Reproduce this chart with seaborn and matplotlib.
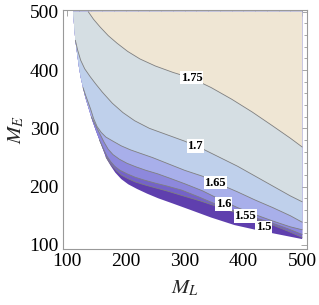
import numpy as np
import matplotlib
matplotlib.use('Agg')
import matplotlib.pyplot as plt
from matplotlib.ticker import MultipleLocator
import seaborn as sns

# Edge of the allowed region (below / left of it nothing is drawn)
edge_ml = np.array([110, 112, 114, 117, 120, 123, 127, 131, 137, 143, 149, 155, 161, 167, 174, 182,
                    192, 204, 219, 236, 255, 280, 310, 345, 385, 425, 465, 500])
edge_me = np.array([500, 475, 451, 428, 406, 388, 370, 353, 333, 313, 296, 280, 264, 248, 236, 224,
                    213, 204, 196, 188, 180, 171, 160, 147, 134, 125, 117, 110])

# Contour lines
c150_ml = np.array([166, 171, 177, 184, 192, 203, 216, 232, 250, 272, 298, 325, 355, 385, 415, 445, 475, 500])
c150_me = np.array([251, 243, 235, 227, 220, 214, 208, 203, 198, 192, 184, 176, 166, 156, 146, 136, 124, 113])
c155_ml = np.array([155, 159, 163, 168, 174, 181, 190, 202, 216, 232, 250, 270, 295, 325, 355, 385, 415, 445, 475, 500])
c155_me = np.array([280, 271, 262, 252, 243, 235, 228, 222, 216, 211, 206, 201, 194, 182, 169, 158, 148, 139, 128, 118])
c160_ml = np.array([141, 146, 151, 157, 163, 170, 178, 189, 202, 217, 234, 254, 276, 300, 330, 360, 390, 420, 450, 480, 500])
c160_me = np.array([320, 310, 300, 288, 276, 264, 255, 247, 240, 234, 228, 222, 214, 205, 193, 178, 164, 152, 141, 131, 126])
c165_ml = np.array([127, 131, 135, 140, 145, 151, 158, 166, 178, 192, 208, 225, 245, 270, 300, 330, 360, 390, 420, 450, 480, 500])
c165_me = np.array([370, 358, 347, 333, 317, 303, 293, 285, 278, 270, 263, 257, 250, 240, 228, 218, 204, 191, 177, 164, 150, 139])
c170_ml = np.array([114, 118, 123, 130, 139, 148, 160, 177, 195, 215, 240, 270, 300, 330, 360, 390, 420, 450, 480, 500])
c170_me = np.array([451, 434, 417, 402, 389, 377, 362, 343, 327, 313, 300, 289, 278, 265, 250, 235, 218, 201, 184, 174])
c175_ml = np.array([136, 145, 156, 170, 185, 203, 224, 250, 280, 312, 345, 380, 415, 450, 480, 500])
c175_me = np.array([500, 487, 474, 459, 446, 432, 419, 407, 396, 386, 370, 350, 328, 304, 283, 268])

levels = ['1.5', '1.55', '1.6', '1.65', '1.7', '1.75']
curves = [(c150_ml, c150_me), (c155_ml, c155_me), (c160_ml, c160_me),
          (c165_ml, c165_me), (c170_ml, c170_me), (c175_ml, c175_me)]
label_ml = [434, 403, 366, 352, 318, 312]
label_me = [130, 150, 170, 207, 270, 387]

colors = ['#5f3fae', '#7462c9', '#8d88dc', '#a8afea', '#bfd0eb', '#d5dee3', '#efe6d4']

sns.set_theme(style='white')
plt.rcParams['font.family'] = ['Liberation Serif', 'DejaVu Serif']
plt.rcParams['mathtext.fontset'] = 'stix'

fig = plt.figure(figsize=(3.19, 3.05), dpi=100)
ax = fig.add_axes([0.1975, 0.1836, 0.7645, 0.7836])

# lowest band: everything above the edge
ax.fill(np.append(edge_ml, 500), np.append(edge_me, 500), color=colors[0], lw=0)

for i, (ml, me) in enumerate(curves):
    keep = edge_me > me[0]
    xs = np.concatenate([edge_ml[keep], ml, [500]])
    ys = np.concatenate([edge_me[keep], me, [500]])
    ax.fill(xs, ys, color=colors[i + 1], lw=0)

for ml, me in curves:
    sns.lineplot(x=ml, y=me, sort=False, estimator=None, color='#7f7f7f',
                 lw=0.6, ax=ax)

for lab, x, y in zip(levels, label_ml, label_me):
    ax.text(x, y, lab, ha='center', va='center', fontsize=9, fontweight='bold',
            color='black',
            bbox=dict(facecolor='white', edgecolor='none', pad=0.5))

ax.set_xlim(93, 508)
ax.set_ylim(93, 503)
ax.set_xticks([100, 200, 300, 400, 500])
ax.set_yticks([100, 200, 300, 400, 500])
ax.xaxis.set_minor_locator(MultipleLocator(20))
ax.yaxis.set_minor_locator(MultipleLocator(20))
ax.tick_params(which='both', direction='in', top=True, right=True,
               color='#999999', width=0.6, labelsize=14, labelcolor='black')
ax.tick_params(which='major', length=4, pad=3)
ax.tick_params(which='minor', length=2)
for s in ax.spines.values():
    s.set_color('#999999')
    s.set_linewidth(0.8)

ax.set_xlabel(r'$M_L$', fontsize=15, labelpad=6)
ax.set_ylabel(r'$M_E$', fontsize=15, labelpad=2)

fig.savefig('out.png', dpi=100)
